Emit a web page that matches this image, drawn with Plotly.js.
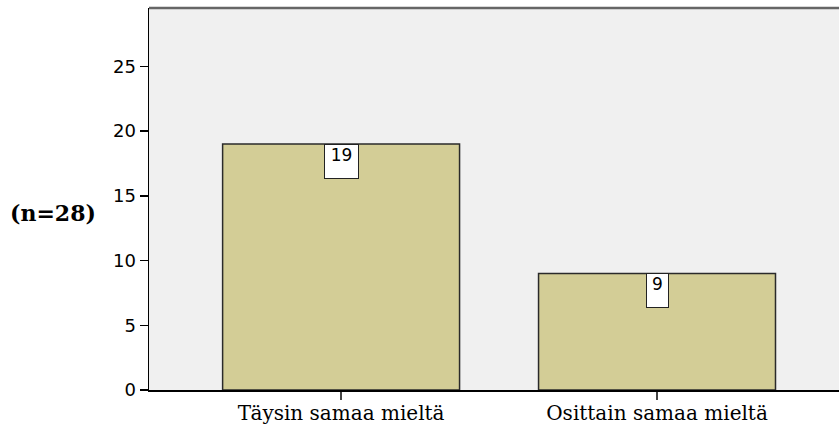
<!DOCTYPE html>
<html>
<head>
<meta charset="utf-8">
<script src="https://cdn.plot.ly/plotly-3.0.1.min.js"></script>
<style>
  html, body { margin: 0; padding: 0; background: #ffffff; overflow: hidden; }
  #chart { width: 839px; height: 430px; }
</style>
</head>
<body>
<div id="chart"></div>
<script>
const categories = ["Täysin samaa mieltä", "Osittain samaa mieltä"];
const counts = [19, 9];
const yTickVals = [0, 5, 10, 15, 20, 25];
const yTitle = "(n=28)";

const trace = {
  type: "bar",
  x: categories,
  y: counts,
  width: 0.75,
  marker: { color: "#d3cd96", line: { color: "#2a2a2a", width: 1.5 } },
  hoverinfo: "skip"
};

const labelAnnotations = categories.map((c, i) => {
  const t = String(counts[i]);
  return {
    x: c, y: counts[i], xref: "x", yref: "y",
    text: t, showarrow: false,
    yanchor: "top", xanchor: "center",
    width: 9 + 12 * t.length, height: 33, valign: "top", align: "center",
    bgcolor: "#ffffff", bordercolor: "#222222", borderwidth: 1, borderpad: 0,
    font: { family: "DejaVu Sans, sans-serif", size: 17, color: "#000000" }
  };
});

const layout = {
  width: 839, height: 430,
  margin: { l: 149, r: 0, t: 8, b: 40 },
  paper_bgcolor: "#ffffff",
  plot_bgcolor: "#f0f0f0",
  showlegend: false,
  bargap: 0.25,
  xaxis: {
    type: "category",
    range: [-0.608, 1.576],
    showline: true, linecolor: "#000000", linewidth: 2,
    ticks: "outside", ticklen: 8, tickwidth: 2, tickcolor: "#444444",
    ticklabelstandoff: -4,
    showgrid: false, zeroline: false,
    tickfont: { family: "DejaVu Serif, serif", size: 20, color: "#000000" },
    fixedrange: true
  },
  yaxis: {
    range: [0, 29.5],
    tickvals: yTickVals,
    showline: true, linecolor: "#000000", linewidth: 1.5,
    ticks: "outside", ticklen: 8, tickwidth: 1.5, tickcolor: "#000000",
    showgrid: false, zeroline: false,
    tickfont: { family: "DejaVu Sans, sans-serif", size: 18, color: "#000000" },
    fixedrange: true
  },
  shapes: [
    { type: "line", xref: "paper", yref: "paper", x0: 0, x1: 1, y0: 1, y1: 1,
      line: { color: "#666666", width: 2.5 } }
  ],
  annotations: labelAnnotations.concat([
    { xref: "paper", yref: "paper", x: -0.139, y: 0.463, xanchor: "center", yanchor: "middle",
      showarrow: false, text: "<b>" + yTitle + "</b>",
      font: { family: "DejaVu Serif, serif", size: 22, color: "#000000" } }
  ])
};

Plotly.newPlot("chart", [trace], layout, { displayModeBar: false, staticPlot: true });
</script>
</body>
</html>
